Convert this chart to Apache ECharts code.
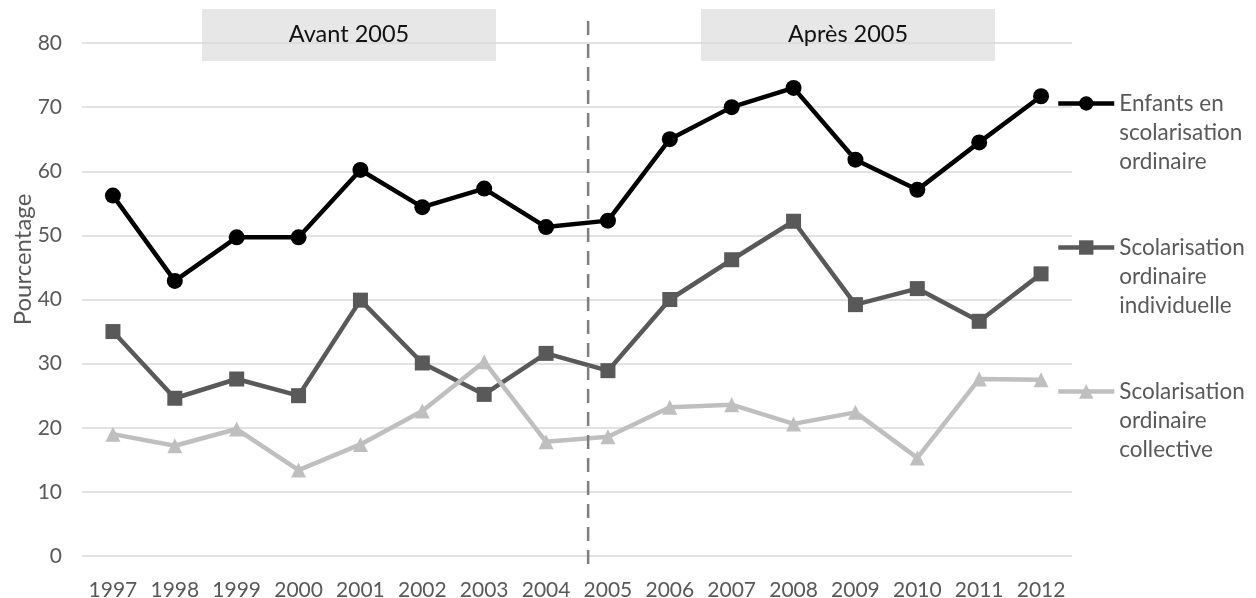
<!DOCTYPE html>
<html>
<head>
<meta charset="utf-8">
<script src="https://cdn.jsdelivr.net/npm/echarts@6/dist/echarts.min.js"></script>
<style>
  html, body { margin: 0; padding: 0; background: #ffffff; }
  #chart { width: 1256px; height: 598px; }
</style>
</head>
<body>
<div id="chart"></div>
<script>
// Years on the horizontal axis
const years = ['1997', '1998', '1999', '2000', '2001', '2002', '2003', '2004',
               '2005', '2006', '2007', '2008', '2009', '2010', '2011', '2012'];

// Share of children (%) by schooling mode
const ordinaire    = [56.2, 42.9, 49.7, 49.7, 60.2, 54.4, 57.3, 51.3, 52.3, 65.0, 70.0, 73.0, 61.8, 57.1, 64.5, 71.7];
const individuelle = [35.0, 24.6, 27.6, 25.0, 39.9, 30.1, 25.2, 31.6, 28.9, 40.0, 46.2, 52.2, 39.2, 41.7, 36.6, 44.0];
const collective   = [19.0, 17.2, 19.8, 13.4, 17.4, 22.6, 30.3, 17.8, 18.6, 23.2, 23.6, 20.6, 22.4, 15.3, 27.6, 27.5];

// Series names, as shown in the legend
const seriesNames = [
  'Enfants en\nscolarisation\nordinaire',
  'Scolarisation\nordinaire\nindividuelle',
  'Scolarisation\nordinaire\ncollective'
];

// Value axis range and step
const yMin = 0, yMax = 80, yStep = 10;

// Period captions
const periodLabels = ['Avant 2005', 'Après 2005'];

const FONT = 'Lato';
const chart = echarts.init(document.getElementById('chart'), null, { renderer: 'canvas' });

function lineSeries(name, data, color, symbol, size) {
  return {
    name: name,
    type: 'line',
    data: data,
    symbol: symbol,
    symbolSize: size,
    showSymbol: true,
    lineStyle: { color: color, width: 4.5 },
    itemStyle: { color: color },
    emphasis: { disabled: true },
    z: 3
  };
}

const option = {
  animation: false,
  backgroundColor: '#ffffff',
  textStyle: { fontFamily: FONT },
  grid: { left: 82, right: 184, top: 43, bottom: 42, containLabel: false, outerBoundsMode: 'none' },
  xAxis: {
    type: 'category',
    data: years,
    boundaryGap: true,
    axisLine: { show: false },
    axisTick: { show: false },
    axisLabel: { color: '#595959', fontSize: 21, fontFamily: FONT, margin: 24, interval: 0 },
    splitLine: { show: false }
  },
  yAxis: {
    type: 'value',
    min: yMin, max: yMax, interval: yStep,
    name: 'Pourcentage',
    nameLocation: 'middle',
    nameGap: 47,
    nameRotate: 90,
    nameMoveOverlap: false,
    nameTextStyle: { color: '#595959', fontSize: 24, fontFamily: FONT, padding: [0, 0, 0, 80] },
    axisLine: { show: false },
    axisTick: { show: false },
    axisLabel: { color: '#595959', fontSize: 21, fontFamily: FONT, margin: 20 },
    splitLine: { show: true, lineStyle: { color: '#d9d9d9', width: 1.5 } }
  },
  legend: {
    orient: 'vertical',
    left: 1051,
    top: 26,
    itemWidth: 56,
    itemHeight: 18,
    itemGap: -1,
    itemTextGap: 5,
    selectedMode: false,
    data: seriesNames,
    // two leading blank lines keep the icon level with the first line of each name
    formatter: function (name) { return '\n\n' + name; },
    lineStyle: { width: 4.5 },
    textStyle: { color: '#595959', fontSize: 22.5, fontFamily: FONT, lineHeight: 29 }
  },
  series: [
    lineSeries(seriesNames[0], ordinaire, '#000000', 'circle', 16),
    lineSeries(seriesNames[1], individuelle, '#595959', 'rect', 15),
    lineSeries(seriesNames[2], collective, '#bfbfbf', 'triangle', 15)
  ]
};

chart.setOption(option);

// Period captions and the 2004/2005 divider, placed from the axis scale
function drawAnnotations() {
  const x04 = chart.convertToPixel({ xAxisIndex: 0 }, '2004');
  const x05 = chart.convertToPixel({ xAxisIndex: 0 }, '2005');
  const yTop = chart.convertToPixel({ yAxisIndex: 0 }, yMax);
  const yBottom = chart.convertToPixel({ yAxisIndex: 0 }, yMin);
  const dividerX = x04 + (x05 - x04) * 0.68;

  const boxW = 294, boxH = 52, boxTop = 9;
  const boxCenters = [349, 848];

  const elements = [];
  boxCenters.forEach(function (cx, i) {
    elements.push({
      type: 'rect',
      z: -10,
      silent: true,
      shape: { x: cx - boxW / 2, y: boxTop, width: boxW, height: boxH },
      style: { fill: '#e7e7e7' }
    });
    elements.push({
      type: 'text',
      z: 10,
      silent: true,
      x: cx,
      y: boxTop + boxH / 2 - 1,
      style: {
        text: periodLabels[i],
        fill: '#111111',
        font: '23.5px ' + FONT,
        align: 'center',
        verticalAlign: 'middle'
      }
    });
  });
  elements.push({
    type: 'line',
    z: 5,
    silent: true,
    shape: { x1: dividerX, y1: yTop - 22, x2: dividerX, y2: yBottom + 14 },
    style: { stroke: '#7f7f7f', lineWidth: 2.5, lineDash: [14, 9] }
  });
  chart.setOption({ graphic: { elements: elements } });
}
drawAnnotations();
</script>
</body>
</html>
